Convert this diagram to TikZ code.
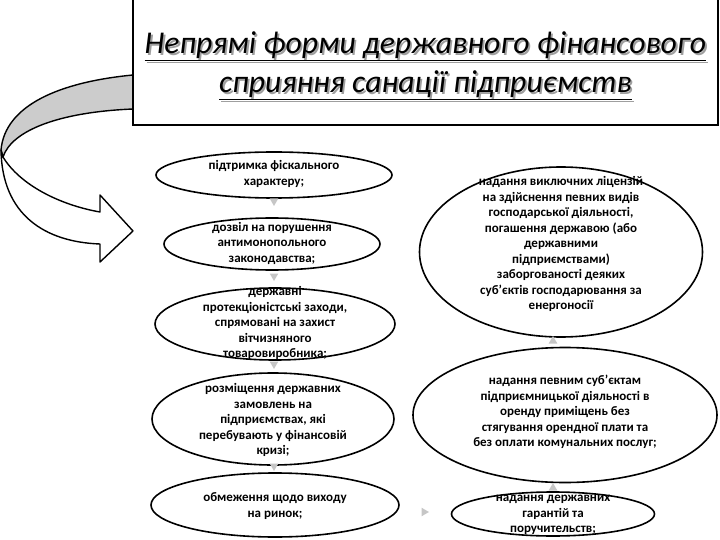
\documentclass[tikz,border=0pt]{standalone}
\usepackage{fontspec}
\setmainfont{Carlito}
\usetikzlibrary{shapes.geometric}
\newcommand{\shadowline}[1]{\makebox[0pt][l]{\kern1.8pt\raisebox{-1.8pt}{\textcolor{gray!75}{\underline{#1}}}}\underline{#1}}
\begin{document}
\begin{tikzpicture}[x=1pt,y=-1pt,
  ell/.style={draw, line width=1.6pt, ellipse, inner sep=0pt, fill=white},
  txt/.style={align=center, inner sep=0pt, font=\fontsize{13}{15.5}\selectfont\bfseries},
  tri/.style={regular polygon, regular polygon sides=3, fill=gray!45, inner sep=0pt, minimum size=10pt},
  band/.style={draw, line width=1.4pt, line join=round},
  ttl/.style={align=center, inner sep=0pt, font=\fontsize{31.7}{39}\selectfont\itshape}]
\useasboundingbox (0,0) rectangle (720,540);
% curved arrow
\path[band, fill=gray!40] (133,75) .. controls (60,82) and (5,105) .. (1,150)
  -- (3,157) .. controls (12,130) and (60,112) .. (133,109);
\path[band, fill=white] (3,157) .. controls (20,185) and (60,205) .. (100,212)
  -- (100,195) -- (133,231) -- (100,262) -- (100,244)
  .. controls (45,242) and (2,215) .. (1,150) -- cycle;
% title box
\node[draw, line width=1.6pt, fill=white, minimum width=585pt, minimum height=140pt, inner sep=0pt] (box) at (425.5,55) {};
\node[ttl] (title) at (425.5,67)
  {\shadowline{Непрямі форми державного фінансового}\\\shadowline{сприяння санації підприємств}};
% left column
\node[ell, minimum width=236pt, minimum height=46pt] (e1) at (274,175) {};
\node[txt] (t1) at (274,174) {підтримка фіскального\\характеру;};
\node[ell, minimum width=216pt, minimum height=52pt] (e2) at (272,244) {};
\node[txt] (t2) at (272,243) {дозвіл на порушення\\антимонопольного\\законодавства;};
\node[ell, minimum width=240pt, minimum height=72pt] (e3) at (275,324) {};
\node[txt] (t3) at (275,323) {державні\\протекціоністські заходи,\\спрямовані на захист\\вітчизняного\\товаровиробника;};
\node[ell, minimum width=242pt, minimum height=92pt] (e4) at (273,419) {};
\node[txt] (t4) at (273,420) {розміщення державних\\замовлень на\\підприємствах, які\\перебувають у фінансовій\\кризі;};
\node[ell, minimum width=248pt, minimum height=64pt] (e5) at (275,505) {};
\node[txt] (t5) at (275,506) {обмеження щодо виходу\\на ринок;};
% right column
\node[ell, minimum width=283pt, minimum height=170pt] (ea) at (561,252) {};
\node[txt] (ta) at (561,244) {надання виключних ліцензій\\на здійснення певних видів\\господарської діяльності,\\погашення державою (або\\державними\\підприємствами)\\заборгованості деяких\\суб'єктів господарювання за\\енергоносії};
\node[ell, minimum width=304pt, minimum height=135pt] (eb) at (565,415) {};
\node[txt] (tb) at (565,412) {надання певним суб'єктам\\підприємницької діяльності в\\оренду приміщень без\\стягування орендної плати та\\без оплати комунальних послуг;};
\node[ell, minimum width=203pt, minimum height=44pt] (ec) at (553,514) {};
\node[txt] (tc) at (553,515) {надання державних\\гарантій та\\поручительств;};
% small triangles
\node[tri, shape border rotate=180] (d1) at (274,201) {};
\node[tri, shape border rotate=180] (d2) at (274,276) {};
\node[tri, shape border rotate=180] (d3) at (274,364) {};
\node[tri, shape border rotate=180] (d4) at (274,466) {};
\node[tri] (u1) at (553,341) {};
\node[tri] (u2) at (553,488) {};
\node[tri, shape border rotate=-90] (r1) at (424,512) {};
\end{tikzpicture}
\end{document}
